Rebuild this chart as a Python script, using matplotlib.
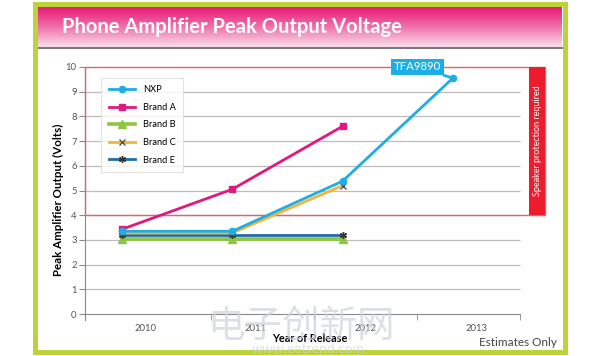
import numpy as np
import matplotlib.pyplot as plt
from matplotlib.patches import Rectangle

years = ["2010", "2011", "2012", "2013"]
nxp = [3.35, 3.35, 5.38, 9.55]
brand_a = [3.43, 5.05, 7.6]
brand_b = [3.05, 3.05, 3.05]
brand_c = [3.28, 3.28, 5.2]
brand_e = [3.2, 3.2, 3.2]
yticks = list(range(0, 11))

BLUE = "#1EAEE3"
PINK = "#E2177F"
GREEN = "#8DC63F"
ORANGE = "#F3B43A"
NAVY = "#1F6BAE"
LIME = "#BCD43A"
RED = "#EC1C2D"

plt.rcParams["font.family"] = ["Lato", "DejaVu Sans"]

fig = plt.figure(figsize=(6.0, 3.56), dpi=100)

# frame / header drawn in pixel space
bg = fig.add_axes([0, 0, 1, 1])
bg.set_xlim(0, 600)
bg.set_ylim(356, 0)
bg.axis("off")
grad = np.linspace(0, 1, 64).reshape(-1, 1)
top = np.array([0.91, 0.11, 0.47])
bot = np.array([0.98, 0.87, 0.92])
img = top + (bot - top) * grad[..., None] ** 1.2
bg.imshow(img, extent=[37, 562, 47, 6], aspect="auto", zorder=1)
bg.plot([37, 562], [48, 48], color="#7A7A7A", lw=1.5, zorder=2)
bg.add_patch(Rectangle((34.5, 4), 530, 347.5, fill=False, ec=LIME, lw=3.6, zorder=3))
bg.text(62, 27, "Phone Amplifier Peak Output Voltage", color="white",
        fontsize=14.5, fontweight="bold", va="center", ha="left", zorder=4)

# main chart
ax = fig.add_axes([85 / 600, (356 - 320.2) / 356, 460 / 600, 253.2 / 356])
ax.set_xlim(-0.335, 3.835)
ax.set_ylim(-0.25, 10)
ax.patch.set_alpha(0)

ax.hlines(yticks[1:10], -0.335, 3.61, color="#BDBDBD", lw=0.9, zorder=1)

ax.add_patch(Rectangle((-0.335, 4), 4.17, 6, fill=False, ec="#E0646E", lw=1.0, zorder=2, clip_on=False))
ax.add_patch(Rectangle((3.69, 4), 0.145, 6, fc=RED, ec="none", zorder=2, clip_on=False))
ax.text(3.7625, 7, "Speaker protection required", rotation=90, color="white",
        fontsize=6.5, ha="center", va="center", zorder=3)

x3 = np.arange(3)
ax.plot(x3, brand_b, color=GREEN, lw=2.6, marker="^", ms=6, label="Brand B", zorder=4)
ax.plot(x3, brand_e, color=NAVY, lw=2.0, marker=(6, 2, 0), ms=5, mec="#333333", label="Brand E", zorder=5)
ax.plot(x3, brand_c, color=ORANGE, lw=2.0, marker="x", ms=4.5, mec="#555555", label="Brand C", zorder=6)
ax.plot(x3, brand_a, color=PINK, lw=2.0, marker="s", ms=4.5, label="Brand A", zorder=7)
ax.plot(np.arange(4), nxp, color=BLUE, lw=2.0, marker="o", ms=4.5, label="NXP", zorder=8)

ax.annotate("TFA9890", xy=(3, nxp[3]), xytext=(2.68, 10.0), color="white", fontsize=8.2,
            ha="center", va="center", zorder=9, annotation_clip=False,
            bbox=dict(boxstyle="square,pad=0.25", fc=BLUE, ec="none"),
            arrowprops=dict(arrowstyle="-", color=BLUE, lw=2.0, shrinkA=0, shrinkB=0))

handles, labels = ax.get_legend_handles_labels()
order = ["NXP", "Brand A", "Brand B", "Brand C", "Brand E"]
hmap = dict(zip(labels, handles))
leg = ax.legend([hmap[k] for k in order], order, loc="upper left",
                bbox_to_anchor=(0.035, 0.957), borderaxespad=0, fontsize=6.7,
                handlelength=2.8, handletextpad=0.9, labelspacing=0.92,
                borderpad=0.8, frameon=True, fancybox=False, edgecolor="#DDDDDD")
leg.get_frame().set_linewidth(0.8)
leg.set_zorder(10)

for s in ["top", "right"]:
    ax.spines[s].set_visible(False)
ax.spines["bottom"].set_position(("data", 0))
ax.spines["bottom"].set_bounds(-0.335, 3.61)
ax.spines["bottom"].set_color("#8A8A8A")
ax.spines["left"].set_color("#8A8A8A")
ax.set_yticks(yticks)
ax.tick_params(axis="y", length=4, color="#8A8A8A", labelsize=6.8, labelcolor="#555555", pad=2)
ax.set_xticks([i + 0.21 for i in range(4)])
ax.set_xticklabels(years)
ax.set_xticks([0.805, 1.74, 2.675, 3.61], minor=True)
ax.tick_params(axis="x", which="major", length=0, labelsize=6.8, labelcolor="#555555", pad=7)
ax.tick_params(axis="x", which="minor", length=4, color="#8A8A8A")

fig.text(58 / 600, 1 - 200 / 356, "Peak Amplifier Output (Volts)", rotation=90,
         fontsize=8.3, fontweight="bold", ha="center", va="center")
fig.text(310 / 600, 1 - 339 / 356, "Year of Release", fontsize=7.8, fontweight="bold",
         ha="center", va="center")
fig.text(557 / 600, 1 - 342 / 356, "Estimates Only", fontsize=8.5, color="#444444",
         ha="right", va="center")

# watermark
fig.text(301 / 600, 1 - 326 / 356, "电子创新网", fontsize=27, color="#CDD3DB", alpha=0.7,
         family=["Noto Sans CJK SC", "DejaVu Sans"], ha="center", va="center", zorder=20)
fig.text(308 / 600, 1 - 349 / 356, "www.eetrend.com", fontsize=10, color="#CDD3DB", alpha=0.7,
         ha="center", va="center", zorder=20)

fig.savefig("out.png", dpi=100)
